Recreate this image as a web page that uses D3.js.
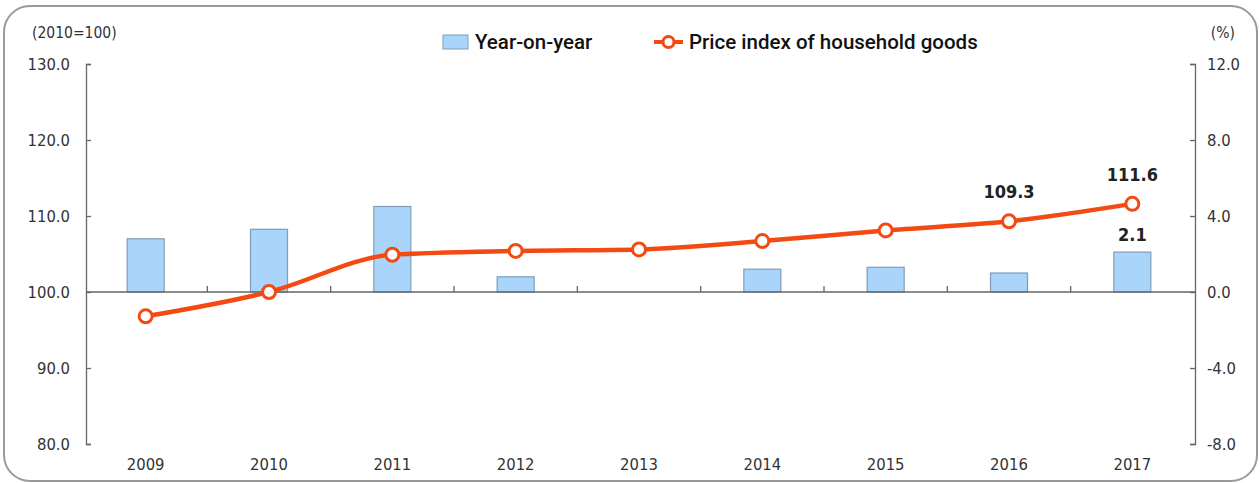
<!DOCTYPE html>
<html>
<head>
<meta charset="utf-8">
<script src="https://cdn.jsdelivr.net/npm/d3@7"></script>
<style>
  html, body { margin: 0; padding: 0; background: #fff; }
  svg { display: block; }
  .tick text, .lbl { font-family: "DejaVu Sans Condensed", "DejaVu Sans", sans-serif; fill: #333; }
  .legend text { font-family: Roboto, "Liberation Sans", Arial, sans-serif; font-weight: 500; fill: #111; }
</style>
</head>
<body>
<svg id="chart" width="1260" height="483"></svg>
<script>
var years = ["2009", "2010", "2011", "2012", "2013", "2014", "2015", "2016", "2017"];
var yoy = [2.8, 3.3, 4.5, 0.8, 0.0, 1.2, 1.3, 1.0, 2.1];
var priceIndex = [96.8, 100.0, 104.9, 105.4, 105.6, 106.7, 108.1, 109.3, 111.6];
var leftTicks = [80, 90, 100, 110, 120, 130];
var rightTicks = [-8, -4, 0, 4, 8, 12];

var svg = d3.select("#chart");
var fmt = function (d) { return d.toFixed(1); };

// frame
svg.append("rect")
    .attr("x", 4).attr("y", 6)
    .attr("width", 1253).attr("height", 475)
    .attr("rx", 26).attr("ry", 26)
    .attr("fill", "none")
    .attr("stroke", "#9a9a9a")
    .attr("stroke-width", 2);

var x = d3.scaleBand().domain(years).range([84, 1194]).padding(0);
var yL = d3.scaleLinear().domain([80, 130]).range([444, 64]);
var yR = d3.scaleLinear().domain([-8, 12]).range([444, 64]);
var barW = x.bandwidth() * 0.3;

// left axis
var gL = svg.append("g")
    .attr("transform", "translate(86,0)")
    .call(d3.axisLeft(yL).tickValues(leftTicks)
        .tickFormat(fmt)
        .tickSizeInner(-5).tickSizeOuter(-5).tickPadding(16));

// right axis
var gR = svg.append("g")
    .attr("transform", "translate(1195,0)")
    .call(d3.axisRight(yR).tickValues(rightTicks)
        .tickFormat(fmt)
        .tickSizeInner(-5).tickSizeOuter(-5).tickPadding(12));

[gL, gR].forEach(function (g) {
    g.select(".domain").attr("stroke", "#666").attr("stroke-width", 1.3);
    g.selectAll(".tick line").attr("stroke", "#666").attr("stroke-width", 1.3);
    g.selectAll(".tick text").attr("font-size", 16.5).attr("fill", "#333")
        .attr("font-family", null);
});

// bars
svg.append("g").selectAll("rect")
    .data(years)
    .enter().append("rect")
    .attr("x", function (d) { return x(d) + (x.bandwidth() - barW) / 2; })
    .attr("y", function (d, i) { return yR(yoy[i]); })
    .attr("width", barW)
    .attr("height", function (d, i) { return yR(0) - yR(yoy[i]); })
    .attr("fill", "#a9d5fa")
    .attr("stroke", "#7f9db8")
    .attr("stroke-width", 1.2)
    .style("display", function (d, i) { return yoy[i] > 0 ? null : "none"; });

// zero baseline with category separators
var base = yL(100);
svg.append("line")
    .attr("x1", 86).attr("x2", 1195)
    .attr("y1", base).attr("y2", base)
    .attr("stroke", "#666").attr("stroke-width", 1.3);
svg.append("g").selectAll("line")
    .data(years.slice(1))
    .enter().append("line")
    .attr("x1", function (d) { return x(d); })
    .attr("x2", function (d) { return x(d); })
    .attr("y1", base).attr("y2", base - 6)
    .attr("stroke", "#666").attr("stroke-width", 1.3);

// year labels
svg.append("g").selectAll("text")
    .data(years)
    .enter().append("text")
    .attr("class", "lbl")
    .attr("x", function (d) { return x(d) + x.bandwidth() / 2; })
    .attr("y", 470)
    .attr("text-anchor", "middle")
    .attr("font-size", 16.5)
    .text(function (d) { return d; });

// line
var orange = "#f24a12";
var cx = function (i) { return x(years[i]) + x.bandwidth() / 2; };
var line = d3.line()
    .x(function (d, i) { return cx(i); })
    .y(function (d) { return yL(d); })
    .curve(d3.curveMonotoneX);

svg.append("path")
    .datum(priceIndex)
    .attr("d", line)
    .attr("fill", "none")
    .attr("stroke", orange)
    .attr("stroke-width", 4.5);

svg.append("g").selectAll("circle")
    .data(priceIndex)
    .enter().append("circle")
    .attr("cx", function (d, i) { return cx(i); })
    .attr("cy", function (d) { return yL(d); })
    .attr("r", 6.5)
    .attr("fill", "#fff")
    .attr("stroke", orange)
    .attr("stroke-width", 3);

// data labels
function dataLabel(px, py, txt) {
    svg.append("text").attr("class", "lbl")
        .attr("x", px).attr("y", py)
        .attr("text-anchor", "middle").attr("font-size", 18).attr("font-weight", "bold")
        .style("fill", "#222").text(txt);
}
dataLabel(cx(7), yL(priceIndex[7]) - 23, fmt(priceIndex[7]));
dataLabel(cx(8), yL(priceIndex[8]) - 23, fmt(priceIndex[8]));
dataLabel(cx(8), yR(yoy[8]) - 11, fmt(yoy[8]));

// axis units
svg.append("text").attr("class", "lbl")
    .attr("x", 32).attr("y", 38).attr("font-size", 15.5)
    .text("(2010=100)");
svg.append("text").attr("class", "lbl")
    .attr("x", 1235).attr("y", 38).attr("font-size", 15.5)
    .attr("text-anchor", "end")
    .text("(%)");

// legend
var lg = svg.append("g").attr("class", "legend");
lg.append("rect")
    .attr("x", 443).attr("y", 35).attr("width", 25).attr("height", 14)
    .attr("fill", "#a9d5fa").attr("stroke", "#7f9db8").attr("stroke-width", 1);
lg.append("text")
    .attr("x", 475).attr("y", 49).attr("font-size", 20.5)
    .text("Year-on-year");
lg.append("line")
    .attr("x1", 654).attr("x2", 683).attr("y1", 42).attr("y2", 42)
    .attr("stroke", orange).attr("stroke-width", 4);
lg.append("circle")
    .attr("cx", 668.5).attr("cy", 42).attr("r", 5.5)
    .attr("fill", "#fff").attr("stroke", orange).attr("stroke-width", 3);
lg.append("text")
    .attr("x", 689).attr("y", 49).attr("font-size", 20.5)
    .text("Price index of household goods");
</script>
</body>
</html>
